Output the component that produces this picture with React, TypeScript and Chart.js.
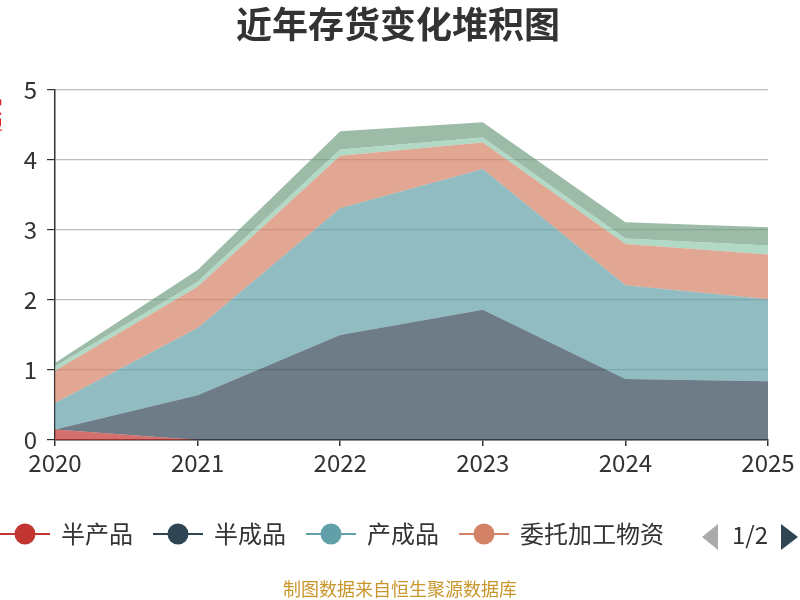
import React, { useEffect, useRef } from 'react';
import { Chart, registerables } from 'chart.js';

Chart.register(...registerables);

const years = ['2020', '2021', '2022', '2023', '2024', '2025'];
const seriesNames = ['半产品', '半成品', '产成品', '委托加工物资', '原材料', '库存商品'];
const banChanPin = [0.15, 0, 0, 0, 0, 0];
const banChengPin = [0, 0.64, 1.5, 1.86, 0.87, 0.84];
const chanChengPin = [0.38, 0.96, 1.81, 2.01, 1.34, 1.17];
const weiTuo = [0.46, 0.59, 0.75, 0.38, 0.59, 0.64];
const yuanCaiLiao = [0.06, 0.07, 0.09, 0.07, 0.08, 0.13];
const kuCun = [0.05, 0.17, 0.26, 0.22, 0.23, 0.26];
const yTickValues = [0, 1, 2, 3, 4, 5];
const titleText = '近年存货变化堆积图';
const footerText = '制图数据来自恒生聚源数据库';
const yAxisName = '亿元';
const pageText = '1/2';

const palette = ['#c23531', '#2f4554', '#61a0a8', '#d48265', '#91c7ae', '#749f83'];
const FONT = '"Noto Sans CJK SC", "Noto Sans", sans-serif';

function withAlpha(hex: string, a: number) {
  const r = parseInt(hex.slice(1, 3), 16);
  const g = parseInt(hex.slice(3, 5), 16);
  const b = parseInt(hex.slice(5, 7), 16);
  return `rgba(${r},${g},${b},${a})`;
}

const decorPlugin = {
  id: 'decor',
  afterDraw(chart: any) {
    const ctx = chart.ctx as CanvasRenderingContext2D;
    ctx.save();
    // title
    ctx.fillStyle = '#333';
    ctx.font = `bold 36px ${FONT}`;
    ctx.textAlign = 'center';
    ctx.textBaseline = 'middle';
    ctx.fillText(titleText, 398, 24);

    // y axis name (clipped at left edge)
    ctx.save();
    ctx.translate(2, 116);
    ctx.rotate(-Math.PI / 2);
    ctx.fillStyle = '#e02020';
    ctx.font = `18px ${FONT}`;
    ctx.textAlign = 'center';
    ctx.textBaseline = 'bottom';
    ctx.fillText(yAxisName, 0, 0);
    ctx.restore();

    // legend (page 1 shows first four)
    const starts = [0, 153, 306, 459];
    const ly = 534;
    for (let i = 0; i < 4; i++) {
      const x0 = starts[i];
      ctx.strokeStyle = palette[i];
      ctx.lineWidth = 2;
      ctx.beginPath();
      ctx.moveTo(x0, ly);
      ctx.lineTo(x0 + 50, ly);
      ctx.stroke();
      ctx.fillStyle = palette[i];
      ctx.beginPath();
      ctx.arc(x0 + 25, ly, 10.5, 0, Math.PI * 2);
      ctx.fill();
      ctx.fillStyle = '#333';
      ctx.font = `24px ${FONT}`;
      ctx.textAlign = 'left';
      ctx.textBaseline = 'middle';
      ctx.fillText(seriesNames[i], x0 + 61, ly);
    }
    // pager
    ctx.fillStyle = '#aaa';
    ctx.beginPath();
    ctx.moveTo(702, 537);
    ctx.lineTo(718, 524);
    ctx.lineTo(718, 550);
    ctx.closePath();
    ctx.fill();
    ctx.fillStyle = '#333';
    ctx.font = `24px ${FONT}`;
    ctx.textAlign = 'left';
    ctx.textBaseline = 'middle';
    ctx.fillText(pageText, 732, 535);
    ctx.fillStyle = '#2f4554';
    ctx.beginPath();
    ctx.moveTo(781, 524);
    ctx.lineTo(781, 550);
    ctx.lineTo(798, 537);
    ctx.closePath();
    ctx.fill();

    // footer
    ctx.fillStyle = '#c9962b';
    ctx.font = `18px ${FONT}`;
    ctx.textAlign = 'center';
    ctx.textBaseline = 'middle';
    ctx.fillText(footerText, 400, 589);
    ctx.restore();
  },
};

export default function App() {
  const ref = useRef<HTMLCanvasElement | null>(null);
  useEffect(() => {
    document.body.style.margin = '0';
    const seriesData = [banChanPin, banChengPin, chanChengPin, weiTuo, yuanCaiLiao, kuCun];
    const chart = new Chart(ref.current as HTMLCanvasElement, {
      type: 'line',
      data: {
        labels: years,
        datasets: seriesData.map((d, i) => ({
          label: seriesNames[i],
          data: d,
          fill: i === 0 ? 'origin' : '-1',
          backgroundColor: withAlpha(palette[i], 0.7),
          borderColor: 'rgba(0,0,0,0)',
          borderWidth: 0,
          pointRadius: 0,
          pointHoverRadius: 0,
          tension: 0,
        })),
      },
      options: {
        animation: false,
        responsive: false,
        devicePixelRatio: 1,
        layout: { padding: { left: 8, top: 90, right: 32, bottom: 100 } },
        plugins: {
          legend: { display: false },
          title: { display: false },
          tooltip: { enabled: false },
        },
        scales: {
          x: {
            type: 'category',
            offset: false,
            grid: {
              drawOnChartArea: false,
              drawTicks: true,
              tickLength: 6,
              tickColor: '#333',
              lineWidth: 1.5,
            },
            border: { color: '#333', width: 1.5 },
            ticks: {
              color: '#333',
              font: { size: 24, family: FONT },
              padding: 2,
              maxRotation: 0,
              autoSkip: false,
            },
            afterFit: (s: any) => {
              s.height = 60;
            },
          },
          y: {
            stacked: true,
            min: 0,
            max: 5,
            afterBuildTicks: (s: any) => {
              s.ticks = yTickValues.map((v) => ({ value: v }));
            },
            grid: {
              color: '#bdbdbd',
              lineWidth: 1.2,
              tickLength: 8,
              tickColor: '#333',
            },
            border: { color: '#333', width: 1.5 },
            ticks: {
              color: '#333',
              font: { size: 24, family: FONT },
              padding: 10,
            },
            afterFit: (s: any) => {
              s.width = 47;
            },
          },
        },
      },
      plugins: [decorPlugin],
    });
    return () => chart.destroy();
  }, []);
  return (
    <div style={{ width: 800, height: 600, position: 'relative' }}>
      <canvas ref={ref} width={800} height={600} style={{ display: 'block' }} />
    </div>
  );
}
